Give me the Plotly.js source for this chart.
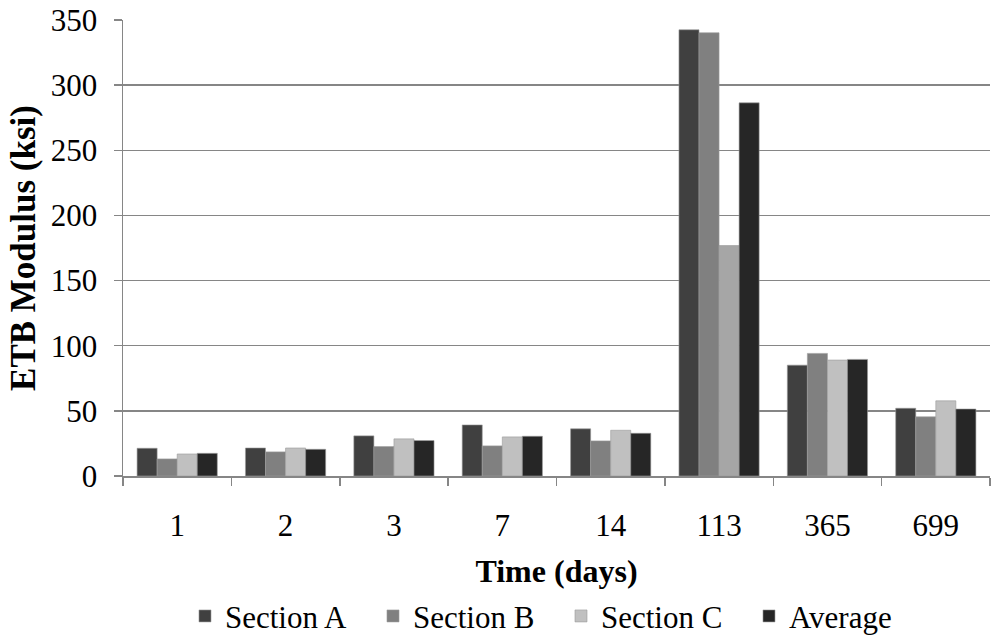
<!DOCTYPE html>
<html>
<head>
<meta charset="utf-8">
<script src="https://cdn.plot.ly/plotly-3.0.1.min.js"></script>
<style>html,body{margin:0;padding:0;background:#fff;}#chart{width:1006px;height:636px;}</style>
</head>
<body>
<div id="chart"></div>
<script>
var categories = ['1', '2', '3', '7', '14', '113', '365', '699'];
var sectionA = [21.3, 21.5, 30.8, 39.2, 36.2, 342.5, 85.1, 52.0];
var sectionB = [13.1, 18.5, 22.6, 23.1, 26.9, 340.2, 94.1, 45.4];
var sectionC = [16.9, 21.5, 28.5, 30.0, 35.1, 176.9, 89.0, 57.7];
var average  = [17.4, 20.5, 27.2, 30.5, 32.8, 286.4, 89.5, 51.4];
var seriesNames = ['Section A', 'Section B', 'Section C', 'Average'];
var yTicks = [0, 50, 100, 150, 200, 250, 300, 350];

var colA = '#404040', colB = '#808080', colC = '#c0c0c0', colAvg = '#262626';
var colCarr = categories.map(function (c) { return c === '113' ? '#a6a6a6' : colC; });
var font = "Liberation Serif";

function bar(name, y, color) {
  return {
    type: 'bar', name: name, x: categories, y: y,
    marker: {color: color, line: {color: '#9a9a9a', width: 0.6}},
    hoverinfo: 'x+y+name'
  };
}

var data = [
  bar(seriesNames[0], sectionA, colA),
  bar(seriesNames[1], sectionB, colB),
  bar(seriesNames[2], sectionC, colCarr),
  bar(seriesNames[3], average, colAvg)
];

var layout = {
  width: 1006, height: 636,
  margin: {l: 123, r: 16, t: 20, b: 160},
  paper_bgcolor: '#ffffff', plot_bgcolor: '#ffffff',
  font: {family: font, color: '#000000', size: 31},
  barmode: 'group', bargap: 0.26, bargroupgap: 0,
  showlegend: true,
  legend: {
    orientation: 'h', x: 0.0715, xanchor: 'left',
    yref: 'container', y: 0.031, yanchor: 'middle',
    font: {family: font, size: 31, color: '#000'}, itemwidth: 30,
    entrywidth: 143, entrywidthmode: 'pixels',
    traceorder: 'normal'
  },
  xaxis: {
    type: 'category',
    tickson: 'boundaries', ticks: 'outside', ticklen: 8, tickwidth: 1.5, tickcolor: '#868686',
    showline: true, linecolor: '#868686', linewidth: 1.5,
    showgrid: false,
    ticklabelstandoff: 21,
    tickfont: {family: font, size: 31, color: '#000'},
    title: {text: '<b>Time (days)</b>', font: {family: font, size: 32, color: '#000'}, standoff: 22}
  },
  yaxis: {
    range: [0, 350], tickvals: yTicks, ticktext: yTicks.map(String),
    ticks: 'outside', ticklen: 8, tickwidth: 1.5, tickcolor: '#868686',
    showline: true, linecolor: '#868686', linewidth: 1.5,
    showgrid: true, gridcolor: '#868686', gridwidth: 1.5,
    zeroline: false,
    ticklabelstandoff: 10,
    tickfont: {family: font, size: 31, color: '#000'},
    title: {text: '<b>ETB Modulus (ksi)</b>', font: {family: font, size: 35, color: '#000'}, standoff: 4}
  }
};

Plotly.newPlot('chart', data, layout, {displayModeBar: false, staticPlot: true});
</script>
</body>
</html>
